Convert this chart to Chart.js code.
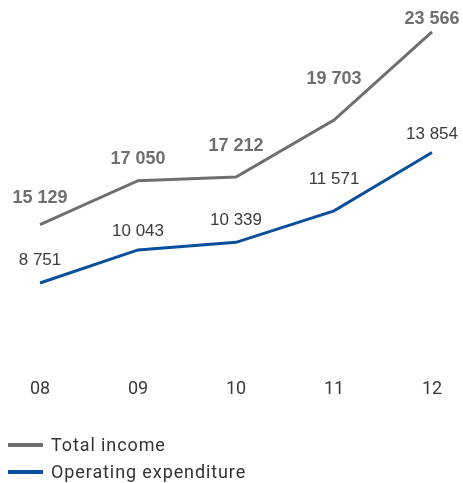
<!DOCTYPE html>
<html>
<head>
<meta charset="utf-8">
<script src="https://cdn.jsdelivr.net/npm/chart.js@4/dist/chart.umd.min.js"></script>
<style>
  html, body { margin: 0; padding: 0; background: #fff; }
  #wrap { position: relative; width: 463px; height: 483px; }
  #legend { position: absolute; left: 8px; top: 431px; font-family: Roboto, "Noto Sans", sans-serif; font-size: 18px; letter-spacing: 0.9px; color: #333; }
  .item { display: flex; align-items: center; height: 27px; }
  .swatch { width: 35px; height: 4px; margin-right: 8px; }
</style>
</head>
<body>
<div id="wrap">
  <canvas id="chart" width="463" height="483"></canvas>
  <div id="legend"></div>
</div>
<script>
// Years on the x axis
const years = ['08', '09', '10', '11', '12'];
// Total income per year
const totalIncome = [15129, 17050, 17212, 19703, 23566];
// Operating expenditure per year
const operatingExpenditure = [8751, 10043, 10339, 11571, 13854];
const seriesNames = ['Total income', 'Operating expenditure'];

const GREY = '#6f6f6f';
const BLUE = '#0a4f9c';

const fmt = v => String(v).replace(/\B(?=(\d{3})+(?!\d))/g, ' ');

// Writes the value above each point of every line
const valueLabels = {
  id: 'valueLabels',
  afterDatasetsDraw(chart) {
    const ctx = chart.ctx;
    chart.data.datasets.forEach((ds, i) => {
      const meta = chart.getDatasetMeta(i);
      ctx.save();
      ctx.font = ds.labelFont;
      ctx.fillStyle = ds.labelColor;
      ctx.textAlign = 'center';
      ctx.textBaseline = 'middle';
      meta.data.forEach((pt, j) => {
        ctx.fillText(fmt(ds.data[j]), pt.x, pt.y - ds.labelLift[j]);
      });
      ctx.restore();
    });
  }
};

new Chart(document.getElementById('chart'), {
  type: 'line',
  data: {
    labels: years,
    datasets: [
      {
        label: seriesNames[0],
        data: totalIncome,
        yAxisID: 'yIncome',
        borderColor: GREY,
        borderWidth: 3,
        pointRadius: 0,
        tension: 0,
        labelFont: 'bold 18px "Liberation Sans", Arial, sans-serif',
        labelColor: GREY,
        labelLift: [27, 22, 31, 41, 13]
      },
      {
        label: seriesNames[1],
        data: operatingExpenditure,
        yAxisID: 'yExpense',
        borderColor: BLUE,
        borderWidth: 3,
        pointRadius: 0,
        tension: 0,
        labelFont: '17px "Liberation Sans", Arial, sans-serif',
        labelColor: '#3c3c3c',
        labelLift: [23, 19, 22, 32, 18]
      }
    ]
  },
  options: {
    responsive: false,
    animation: false,
    layout: { padding: { top: 13, bottom: 75, left: 40, right: 31 } },
    plugins: { legend: { display: false }, tooltip: { enabled: false } },
    scales: {
      x: {
        grid: { display: false, drawTicks: false },
        border: { display: false },
        ticks: { padding: 8, color: '#3a3a3a', font: { family: 'Roboto', size: 18 } }
      },
      yIncome: { display: false, min: 8751, max: 24389 },
      yExpense: { display: false, min: 5334, max: 19304 }
    }
  },
  plugins: [valueLabels]
});

// Legend below the chart
const legend = document.getElementById('legend');
[[seriesNames[0], GREY], [seriesNames[1], BLUE]].forEach(([name, color]) => {
  const row = document.createElement('div');
  row.className = 'item';
  const sw = document.createElement('span');
  sw.className = 'swatch';
  sw.style.background = color;
  const tx = document.createElement('span');
  tx.textContent = name;
  row.appendChild(sw);
  row.appendChild(tx);
  legend.appendChild(row);
});
</script>
</body>
</html>
